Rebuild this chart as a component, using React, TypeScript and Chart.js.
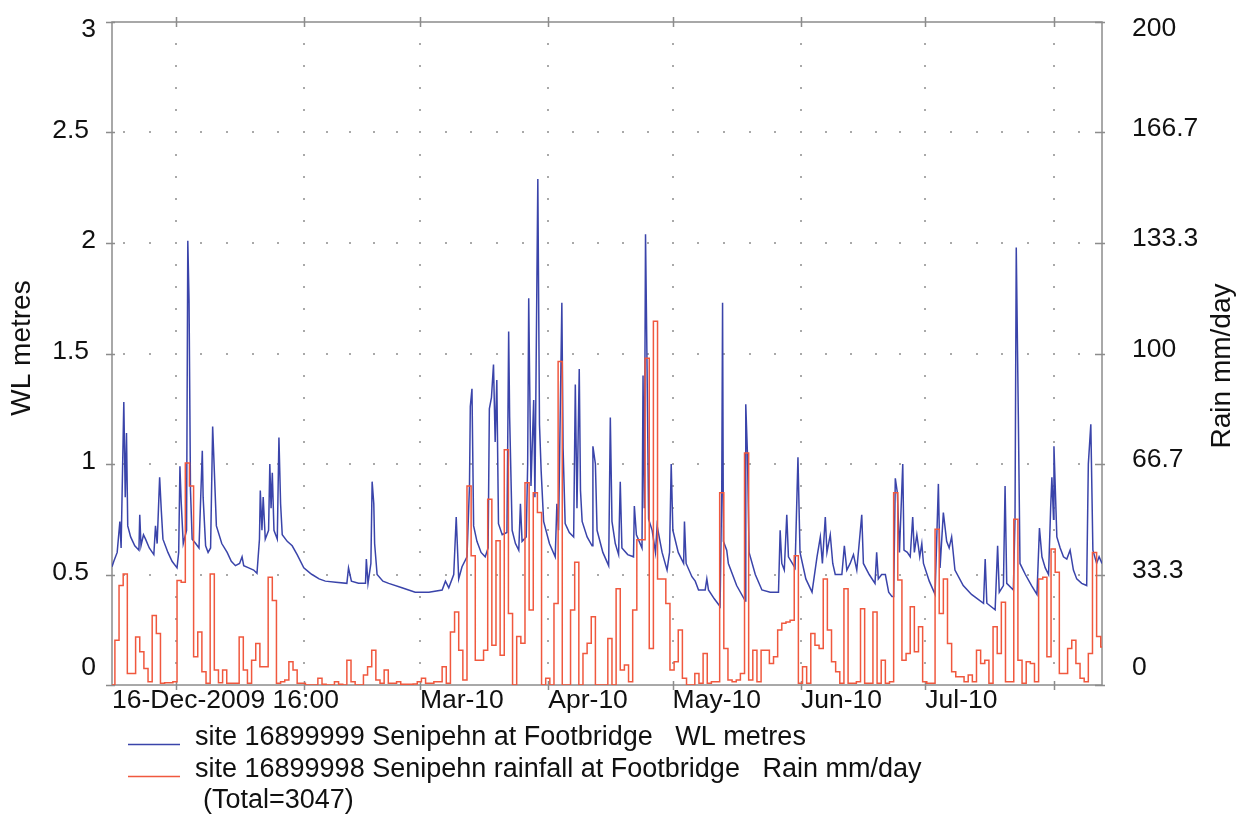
import React, { useEffect, useRef } from 'react';
import { Chart, registerables } from 'chart.js';

Chart.register(...registerables);

const FONT = "'Liberation Sans', Arial, Helvetica, sans-serif";
const BLUE = 'rgb(58, 68, 170)';
const RED = 'rgb(240, 88, 62)';
const TEXT = '#111111';

// x axis: days since 16-Dec-2009 16:00
const X_MAX = 239;
const xTickDays = [0, 15.333, 46.333, 74.333, 105.333, 135.333, 166.333, 196.333, 227.333];
const xTickLabels = ['16-Dec-2009 16:00', '', '', 'Mar-10', 'Apr-10', 'May-10', 'Jun-10', 'Jul-10', ''];
const monthStartDays = [-15.667, 15.333, 46.333, 74.333, 105.333, 135.333, 166.333, 196.333, 227.333, 258.333];

const wlTicks = [0, 0.5, 1, 1.5, 2, 2.5, 3];
const wlTickLabels = ['0', '0.5', '1', '1.5', '2', '2.5', '3'];
const rainTicks = [0, 33.333, 66.667, 100, 133.333, 166.667, 200];
const rainTickLabels = ['0', '33.3', '66.7', '100', '133.3', '166.7', '200'];

const WL_NAME = 'site 16899999 Senipehn at Footbridge   WL metres';
const RAIN_NAME = 'site 16899998 Senipehn rainfall at Footbridge   Rain mm/day';
const RAIN_TOTAL = '(Total=3047)';
const WL_AXIS_TITLE = 'WL metres';
const RAIN_AXIS_TITLE = 'Rain mm/day';

// daily rainfall (mm/day), first day starts at RAIN_START (days)
const RAIN_START = -0.3;
const rainDaily = [
  0, 13.5, 30, 33.5, 3.5, 3.5, 14.5, 10, 5, 1,
  21, 15.5, 0.5, 0.7, 0.7, 1, 31.5, 31, 67, 60,
  8.5, 16, 4, 0.5, 33.5, 4.5, 0.7, 4.5, 0.5, 0.5,
  0.5, 14.5, 4.5, 0.5, 7.5, 12.5, 5.5, 5.5, 32.5, 25.5,
  0.5, 1, 1.5, 7, 4.5, 0.5, 0.5, 0, 0, 0,
  2, 0.2, 0, 0, 1, 0.2, 0, 7.5, 1, 0,
  0, 3, 5.5, 10.5, 1.5, 0.5, 4.5, 0.5, 0.5, 1,
  0.2, 0.2, 0.2, 0.3, 1, 2, 0.5, 0.5, 1, 1,
  5.5, 0.5, 16, 22, 10.5, 1.5, 60, 39, 7.5, 7.5,
  10.5, 56, 12, 43.5, 9, 71, 21.6, 0, 14.6, 12.6,
  61, 22.6, 58, 52, 0, 2, 0, 24.6, 97.6, 0,
  0, 22.6, 37, 0, 9.5, 12.6, 20.6, 0, 0, 0,
  14, 0, 29, 4.5, 6, 1, 22.6, 43.8, 43.8, 98.6,
  11, 109.7, 32, 32, 24.6, 4.5, 7, 16.6, 2, 0,
  0, 3.5, 0.5, 9.5, 0.5, 1, 1, 58, 11, 1.5,
  1, 1.5, 3.5, 70, 1.5, 10.5, 1, 10.5, 10.5, 6.5,
  8.5, 16.6, 18.6, 19, 19.5, 39, 0.5, 5.5, 0.5, 15.5,
  12, 11, 32, 16.6, 7, 4, 0.5, 29, 0.5, 0.5,
  1, 23, 0.5, 0.5, 22, 0.5, 7.5, 0.5, 1, 58,
  31.7, 7.5, 9.5, 23.6, 10, 17.6, 1, 0.5, 0.5, 47,
  21.6, 32, 12.5, 4, 2.5, 2.5, 1, 3, 1, 10.5,
  6.5, 7.5, 0.5, 17.6, 9.5, 25, 1, 1, 50, 7.5,
  0.5, 7, 6.5, 1, 32, 32.5, 8.5, 41, 34, 3.5,
  3.5, 11, 13.5, 6.5, 2, 1, 9.5, 40, 14.6, 11.5,
];

// water level readings: [day, metres]
const wlReadings: [number, number][] = [
  [0, 0.535], [0.44, 0.56], [1.25, 0.6], [1.9, 0.74], [2.2, 0.62], [2.85, 1.28], [3.2, 0.85], [3.5, 1.14],
  [3.8, 0.72], [4.5, 0.67], [5.5, 0.63], [6.5, 0.61], [6.7, 0.77], [7.0, 0.63], [7.6, 0.68], [8.1, 0.66],
  [9.0, 0.62], [10.1, 0.59], [10.5, 0.72], [10.9, 0.64], [11.5, 0.94], [11.9, 0.79], [12.3, 0.66], [13.5, 0.6],
  [14.5, 0.56], [15.7, 0.53], [16.1, 0.6], [16.4, 0.99], [16.7, 0.83], [17.2, 0.64], [18.0, 0.7], [18.3, 2.01],
  [18.6, 1.74], [18.95, 0.88], [19.35, 0.66], [20.2, 0.64], [21.0, 0.62], [21.8, 1.06], [22.0, 0.85], [22.6, 0.63],
  [23.2, 0.6], [23.8, 0.62], [24.3, 1.17], [24.7, 0.97], [25.2, 0.72], [26.5, 0.64], [27.8, 0.6], [28.8, 0.56],
  [29.8, 0.54], [30.8, 0.55], [31.4, 0.58], [31.8, 0.54], [33.0, 0.53], [34.2, 0.52], [35.0, 0.505], [35.6, 0.66],
  [35.8, 0.88], [36.2, 0.7], [36.5, 0.85], [37.0, 0.66], [37.8, 0.7], [38.1, 1.0], [38.4, 0.8], [38.7, 0.96],
  [39.1, 0.7], [39.9, 0.66], [40.3, 1.12], [40.7, 0.82], [41.1, 0.68], [42.3, 0.65], [43.5, 0.63], [44.7, 0.59],
  [46.3, 0.53], [47.9, 0.505], [48.3, 0.5], [50.0, 0.48], [51.5, 0.47], [54.0, 0.465], [56.7, 0.46], [57.1, 0.53],
  [57.8, 0.47], [59.5, 0.46], [61.2, 0.46], [61.4, 0.57], [61.8, 0.46], [62.5, 0.55], [62.8, 0.92], [63.2, 0.82],
  [63.4, 0.64], [64.0, 0.5], [65.4, 0.47], [66.8, 0.46], [70.0, 0.44], [73.2, 0.42], [76.5, 0.42], [79.7, 0.43],
  [80.5, 0.47], [81.3, 0.44], [82.5, 0.5], [83.1, 0.76], [83.7, 0.48], [84.5, 0.535], [85.7, 0.58], [86.3, 0.9],
  [86.5, 1.26], [86.9, 1.34], [87.3, 0.72], [88.1, 0.65], [89.1, 0.6], [90.1, 0.58], [90.8, 0.62], [91.1, 1.25],
  [91.6, 1.3], [92.1, 1.45], [92.5, 1.1], [92.9, 1.38], [93.3, 0.73], [94.2, 0.68], [95.35, 0.69], [95.76, 1.6],
  [96.0, 1.21], [96.6, 0.7], [97.4, 0.64], [98.2, 0.61], [98.6, 0.82], [99.0, 0.65], [100.0, 0.67], [100.35, 1.0],
  [100.6, 1.75], [100.8, 1.42], [101.15, 0.9], [101.8, 1.29], [102.1, 0.85], [102.8, 2.29], [103.2, 1.18], [103.6, 0.97],
  [104.2, 0.74], [105.6, 0.64], [107.0, 0.58], [107.4, 0.82], [107.8, 0.7], [108.6, 1.73], [108.9, 1.07], [109.4, 0.73],
  [110.4, 0.69], [111.45, 0.67], [111.85, 1.36], [112.25, 0.8], [112.8, 1.43], [113.1, 0.88], [113.5, 0.74], [114.7, 0.67],
  [115.9, 0.63], [116.1, 1.08], [116.7, 1.0], [117.1, 0.7], [118.5, 0.6], [119.9, 0.54], [120.3, 1.21], [120.7, 0.74],
  [121.5, 0.64], [122.3, 0.59], [122.7, 0.92], [123.1, 0.62], [124.5, 0.59], [125.9, 0.58], [126.1, 0.81], [126.6, 0.68],
  [127.95, 0.62], [128.2, 1.4], [128.5, 0.8], [128.8, 2.04], [129.15, 1.47], [129.55, 0.75], [130.4, 0.7], [131.2, 0.6],
  [131.6, 0.72], [132.8, 0.6], [134.0, 0.52], [134.6, 0.6], [135.0, 1.0], [135.4, 0.7], [136.7, 0.6], [138.0, 0.55],
  [138.2, 0.74], [138.6, 0.55], [140.0, 0.49], [140.8, 0.47], [141.6, 0.43], [143.2, 0.43], [143.6, 0.48], [144.0, 0.43],
  [145.4, 0.39], [146.8, 0.355], [147.2, 0.88], [147.4, 1.73], [147.6, 0.65], [148.4, 0.61], [148.8, 0.55], [150.8, 0.45],
  [152.9, 0.38], [153.0, 1.27], [153.4, 1.05], [153.8, 0.6], [155.3, 0.5], [156.9, 0.43], [158.9, 0.42], [160.9, 0.42],
  [161.3, 0.7], [161.7, 0.55], [162.3, 0.52], [162.9, 0.77], [163.3, 0.58], [164.9, 0.53], [165.6, 1.03], [166.1, 0.6],
  [167.5, 0.48], [169.0, 0.42], [170.2, 0.58], [171.0, 0.67], [171.5, 0.55], [172.2, 0.76], [172.6, 0.6], [173.4, 0.68],
  [174.0, 0.55], [174.6, 0.5], [176.2, 0.5], [176.8, 0.63], [177.4, 0.52], [178.2, 0.55], [179.0, 0.59], [179.8, 0.52],
  [181.0, 0.77], [181.4, 0.55], [182.8, 0.5], [184.2, 0.46], [184.6, 0.6], [185.0, 0.48], [185.8, 0.5], [186.7, 0.5],
  [187.5, 0.42], [188.3, 0.4], [188.7, 0.4], [189.1, 0.935], [189.6, 0.87], [190.1, 0.6], [190.9, 1.0], [191.2, 0.61],
  [192.0, 0.6], [192.7, 0.58], [193.3, 0.76], [193.7, 0.6], [194.3, 0.68], [195.0, 0.58], [195.5, 0.64], [195.9, 0.55],
  [197.3, 0.47], [198.7, 0.41], [199.5, 0.91], [199.9, 0.53], [200.7, 0.78], [201.5, 0.65], [202.1, 0.62], [202.7, 0.67],
  [203.5, 0.52], [205.5, 0.45], [207.5, 0.41], [210.4, 0.37], [210.8, 0.57], [211.2, 0.37], [213.2, 0.34], [213.8, 0.63],
  [214.2, 0.42], [215.2, 0.45], [215.6, 0.9], [216.0, 0.46], [217.6, 0.43], [218.0, 0.75], [218.3, 1.98], [218.8, 1.22],
  [219.2, 0.55], [220.5, 0.5], [222.0, 0.45], [223.3, 0.41], [223.9, 0.71], [224.5, 0.58], [225.3, 0.53], [226.1, 0.5],
  [226.6, 0.8], [226.9, 0.94], [227.3, 0.75], [227.4, 1.08], [228.1, 0.67], [228.9, 0.62], [229.7, 0.58], [230.5, 0.57],
  [231.3, 0.61], [232.1, 0.52], [232.9, 0.48], [234.1, 0.46], [235.3, 0.45], [235.7, 1.0], [236.3, 1.18], [236.8, 0.61],
  [237.7, 0.55], [238.3, 0.58], [239.0, 0.55],
];

const decorPlugin = {
  id: 'decor',
  beforeDatasetsDraw(chart: any) {
    const { ctx, chartArea: a, scales } = chart;
    const x = scales.x, y = scales.y, y2 = scales.y2;
    ctx.save();
    ctx.fillStyle = '#a9a9a9';
    // vertical dotted grid lines at month ticks
    for (let i = 1; i < xTickDays.length; i++) {
      const px = Math.round(x.getPixelForValue(xTickDays[i]));
      for (let k = 1; k < 30; k++) {
        const py = Math.round(y.getPixelForValue(k / 10));
        ctx.fillRect(px - 1, py - 1, 2, 2);
      }
    }
    // horizontal dotted grid lines at WL ticks
    for (let t = 1; t < wlTicks.length - 1; t++) {
      const py = Math.round(y.getPixelForValue(wlTicks[t]));
      for (let m = 0; m < monthStartDays.length - 1; m++) {
        const d0 = monthStartDays[m], d1 = monthStartDays[m + 1];
        for (let k = 0; k < 5; k++) {
          const d = d0 + ((d1 - d0) * k) / 5;
          if (d <= 0.8 || d >= X_MAX - 0.8) continue;
          const px = Math.round(x.getPixelForValue(d));
          ctx.fillRect(px - 1, py - 1, 2, 2);
        }
      }
    }
    // frame
    ctx.strokeStyle = '#8c8c8c';
    ctx.lineWidth = 1.5;
    ctx.strokeRect(a.left, a.top, a.right - a.left, a.bottom - a.top);
    // tick marks
    ctx.beginPath();
    for (let i = 1; i < xTickDays.length; i++) {
      const px = Math.round(x.getPixelForValue(xTickDays[i])) + 0.5;
      ctx.moveTo(px, a.top - 5);
      ctx.lineTo(px, a.top + 5);
      ctx.moveTo(px, a.bottom - 4);
      ctx.lineTo(px, a.bottom + 5);
    }
    for (const v of wlTicks) {
      const py = Math.round(y.getPixelForValue(v)) + 0.5;
      ctx.moveTo(a.left - 6, py);
      ctx.lineTo(a.left + 3, py);
    }
    for (const v of rainTicks) {
      const py = Math.round(y2.getPixelForValue(v)) + 0.5;
      ctx.moveTo(a.right - 7, py);
      ctx.lineTo(a.right + 3, py);
    }
    ctx.stroke();
    ctx.restore();
  },
  afterDraw(chart: any) {
    const { ctx, chartArea: a, scales } = chart;
    const y = scales.y, y2 = scales.y2;
    ctx.save();
    ctx.fillStyle = TEXT;
    ctx.textBaseline = 'middle';
    ctx.font = `26.5px ${FONT}`;
    // left tick labels
    ctx.textAlign = 'right';
    wlTicks.forEach((v, i) => {
      let py = y.getPixelForValue(v) - 2;
      if (i === wlTicks.length - 1) py = a.top + 8;
      if (i === 0) py = a.bottom - 17;
      const lab = wlTickLabels[i];
      ctx.fillText(lab, a.left - (lab.includes('.') ? 23 : 16), py);
    });
    // right tick labels
    ctx.textAlign = 'left';
    rainTicks.forEach((v, i) => {
      let py = y2.getPixelForValue(v) - 4;
      if (i === rainTicks.length - 1) py = a.top + 7;
      if (i === 0) py = a.bottom - 17;
      ctx.fillText(rainTickLabels[i], a.right + 30, py);
    });
    // axis titles
    ctx.font = `28px ${FONT}`;
    ctx.textAlign = 'center';
    ctx.save();
    ctx.translate(22, 348);
    ctx.rotate(-Math.PI / 2);
    ctx.fillText(WL_AXIS_TITLE, 0, 0);
    ctx.restore();
    ctx.save();
    ctx.translate(1222, 366);
    ctx.rotate(-Math.PI / 2);
    ctx.fillText(RAIN_AXIS_TITLE, 0, 0);
    ctx.restore();
    // legend
    ctx.lineWidth = 1.5;
    ctx.strokeStyle = BLUE;
    ctx.beginPath();
    ctx.moveTo(128, 744.5);
    ctx.lineTo(180, 744.5);
    ctx.stroke();
    ctx.strokeStyle = RED;
    ctx.beginPath();
    ctx.moveTo(128, 776.5);
    ctx.lineTo(180, 776.5);
    ctx.stroke();
    ctx.font = `27px ${FONT}`;
    ctx.textAlign = 'left';
    ctx.fillText(WL_NAME, 195, 738);
    ctx.fillText(RAIN_NAME, 195, 770);
    ctx.fillText(RAIN_TOTAL, 203, 801);
    ctx.restore();
  },
};

export default function App() {
  const ref = useRef<HTMLCanvasElement>(null);

  useEffect(() => {
    const rainPoints = rainDaily.map((v, j) => ({ x: RAIN_START + j, y: v }));
    rainPoints.push({ x: RAIN_START + rainDaily.length, y: rainDaily[rainDaily.length - 1] });
    const wlPoints = wlReadings.map(([d, v]) => ({ x: d, y: v }));

    const chart = new Chart(ref.current as HTMLCanvasElement, {
      type: 'line',
      data: {
        datasets: [
          {
            label: RAIN_NAME,
            yAxisID: 'y2',
            data: rainPoints,
            stepped: true,
            borderColor: RED,
            borderWidth: 1.5,
            pointRadius: 0,
            fill: false,
          },
          {
            label: WL_NAME,
            yAxisID: 'y',
            data: wlPoints,
            borderColor: BLUE,
            borderWidth: 1.5,
            pointRadius: 0,
            fill: false,
            tension: 0,
          },
        ],
      },
      options: {
        responsive: false,
        animation: false,
        events: [],
        layout: { padding: { top: 22, left: 0, right: 0, bottom: 0 } },
        plugins: { legend: { display: false }, tooltip: { enabled: false } },
        scales: {
          x: {
            type: 'linear',
            position: 'bottom',
            min: 0,
            max: X_MAX,
            afterBuildTicks: (s: any) => {
              s.ticks = xTickDays.map((v) => ({ value: v }));
            },
            afterFit: (s: any) => {
              s.height = 129;
            },
            grid: { display: false, drawTicks: false, tickLength: 0 },
            border: { display: false },
            ticks: {
              autoSkip: false,
              maxRotation: 0,
              minRotation: 0,
              align: 'start',
              padding: 0,
              color: TEXT,
              font: { family: FONT, size: 26.5 },
              callback: (_v: any, i: number) => xTickLabels[i],
            },
          },
          y: {
            type: 'linear',
            position: 'left',
            min: 0,
            max: 3,
            afterBuildTicks: (s: any) => {
              s.ticks = wlTicks.map((v) => ({ value: v }));
            },
            afterFit: (s: any) => {
              s.width = 112;
            },
            grid: { display: false },
            border: { display: false },
            ticks: { display: false },
          },
          y2: {
            type: 'linear',
            position: 'right',
            min: 0,
            max: 200,
            afterBuildTicks: (s: any) => {
              s.ticks = rainTicks.map((v) => ({ value: v }));
            },
            afterFit: (s: any) => {
              s.width = 137;
            },
            grid: { display: false },
            border: { display: false },
            ticks: { display: false },
          },
        },
      },
      plugins: [decorPlugin],
    } as any);
    return () => chart.destroy();
  }, []);

  return (
    <div style={{ position: 'fixed', left: 0, top: 0, width: 1239, height: 814, background: '#fff' }}>
      <canvas ref={ref} width={1239} height={814} style={{ display: 'block', width: 1239, height: 814 }} />
    </div>
  );
}
